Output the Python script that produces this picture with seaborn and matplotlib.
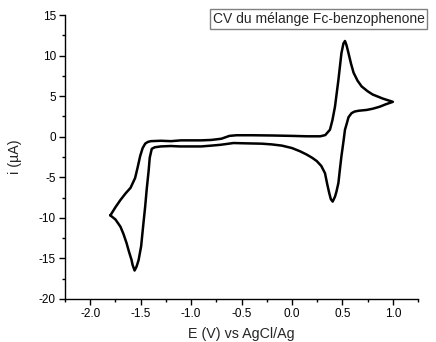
import matplotlib
matplotlib.use("Agg")
import matplotlib.pyplot as plt
from matplotlib.ticker import MultipleLocator
import pandas as pd
import seaborn as sns

# Cyclic voltammogram (forward scan, then reverse)
E_forward = [-1.80, -1.75, -1.70, -1.65, -1.60, -1.555, -1.53, -1.505, -1.48, -1.455,
             -1.43, -1.40, -1.30, -1.20, -1.10, -1.00, -0.90, -0.80, -0.70, -0.62,
             -0.55, -0.40, -0.20, 0.00, 0.15, 0.28, 0.33, 0.376, 0.40, 0.426,
             0.46, 0.49, 0.51, 0.525, 0.54, 0.56, 0.585, 0.61, 0.65, 0.69,
             0.75, 0.80, 0.90, 1.00]
i_forward = [-9.7, -8.7, -7.8, -7.0, -6.3, -5.1, -3.8, -2.4, -1.4, -0.86,
             -0.65, -0.55, -0.50, -0.55, -0.45, -0.45, -0.45, -0.40, -0.25, 0.10,
             0.18, 0.18, 0.15, 0.10, 0.05, 0.05, 0.2, 0.86, 2.0, 3.7,
             7.0, 10.3, 11.5, 11.8, 11.3, 10.3, 9.0, 7.9, 6.9, 6.2,
             5.6, 5.2, 4.7, 4.3]

E_reverse = [0.93, 0.87, 0.80, 0.74, 0.66, 0.62, 0.59, 0.56, 0.54, 0.525,
             0.51, 0.49, 0.475, 0.46, 0.44, 0.426, 0.403, 0.385, 0.37, 0.35,
             0.327, 0.29, 0.245, 0.20, 0.145, 0.08, 0.00, -0.10, -0.20, -0.30,
             -0.45, -0.58, -0.65, -0.71, -0.80, -0.90, -1.00, -1.11, -1.20, -1.30,
             -1.36, -1.39, -1.41, -1.42, -1.44, -1.455, -1.475, -1.495, -1.52, -1.54,
             -1.56, -1.58, -1.59, -1.615, -1.64, -1.67, -1.70, -1.75, -1.80]
i_reverse = [4.0, 3.7, 3.45, 3.3, 3.2, 3.1, 2.9, 2.4, 1.5, 0.86,
             -0.6, -2.4, -4.0, -5.7, -6.8, -7.4, -8.0, -7.7, -7.0, -5.9,
             -4.5, -3.6, -3.0, -2.6, -2.2, -1.8, -1.4, -1.1, -0.95, -0.86,
             -0.82, -0.78, -0.9, -1.0, -1.1, -1.2, -1.2, -1.2, -1.15, -1.2,
             -1.3, -1.5, -2.6, -4.1, -6.5, -8.6, -11.0, -13.5, -15.2, -16.0,
             -16.5, -15.8, -15.2, -14.2, -13.1, -12.0, -11.1, -10.2, -9.7]

title_text = "CV du mélange Fc-benzophenone"

df = pd.DataFrame({"E": E_forward + E_reverse, "i": i_forward + i_reverse})

sns.set_style("ticks")
plt.rcParams['font.family'] = ['Liberation Sans', 'DejaVu Sans']

fig = plt.figure(figsize=(4.36, 3.42), dpi=100)
ax = fig.add_axes([0.149, 0.126, 0.81, 0.83])

sns.lineplot(data=df, x="E", y="i", sort=False, estimator=None,
             color="black", linewidth=1.8, ax=ax)

ax.set_xlim(-2.25, 1.25)
ax.set_ylim(-20, 15)
ax.xaxis.set_major_locator(MultipleLocator(0.5))
ax.xaxis.set_minor_locator(MultipleLocator(0.25))
ax.yaxis.set_major_locator(MultipleLocator(5))
ax.yaxis.set_minor_locator(MultipleLocator(2.5))
ax.xaxis.set_major_formatter(lambda v, p: f"{v:.1f}")
ax.yaxis.set_major_formatter(lambda v, p: f"{v:.0f}")

for s in ["top", "right"]:
    ax.spines[s].set_visible(False)
for s in ["left", "bottom"]:
    ax.spines[s].set_color("black")
    ax.spines[s].set_linewidth(1.0)

ax.tick_params(which="major", direction="out", length=4, width=1, pad=2.5,
               labelsize=8.5, colors="black")
ax.tick_params(which="minor", direction="out", length=2.5, width=1, colors="black")

ax.set_xlabel("E (V) vs AgCl/Ag", fontsize=10.3, labelpad=5)
ax.set_ylabel("i (µA)", fontsize=10.3, labelpad=12)

fig.text(0.7305, 0.944, title_text, ha="center", va="center", fontsize=10,
         bbox=dict(boxstyle="square,pad=0.2", facecolor="white", edgecolor="#808080", linewidth=1))

fig.savefig("out.png", dpi=100)
